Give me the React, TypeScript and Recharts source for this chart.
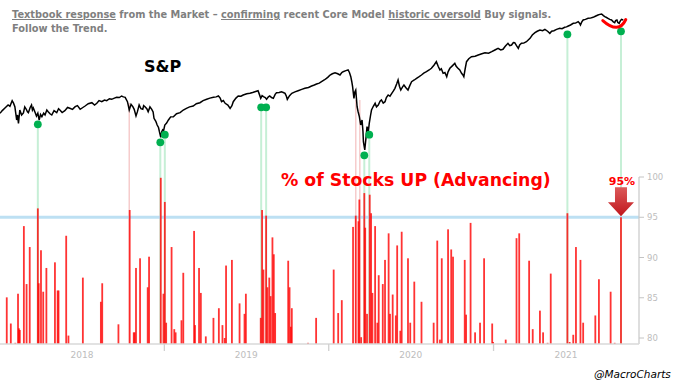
import React from 'react';
import {
  ComposedChart, XAxis, YAxis, Line, Bar, Scatter, ReferenceLine, ReferenceDot,
} from 'recharts';

// S&P 500 path: [days since 2018-01-01, index level (approx.)]
const SPX: [number, number][] = [
  [0, 2987], [5, 3030], [11, 3072], [18, 3120], [22, 3100], [27, 3189], [30, 3150], [33, 3093], [37, 2880], [39, 2960],
  [41, 2827], [44, 3040], [48, 2960], [52, 2992], [55, 3090], [58, 3056], [61, 3010], [63, 2997], [67, 3080], [70, 3120],
  [72, 3040], [74, 3072], [78, 3000], [81, 2944], [84, 2990], [87, 2880], [90, 2970], [93, 2933], [97, 2990], [100, 2960],
  [104, 3040], [107, 3013], [111, 2980], [115, 2960], [120, 3030], [126, 2997], [130, 3060], [133, 3040], [138, 3000], [144, 3029],
  [150, 3080], [155, 3067], [161, 3050], [167, 3093], [172, 3110], [178, 3051], [184, 3080], [189, 3104], [196, 3140], [204, 3157],
  [210, 3120], [215, 3147], [220, 3190], [226, 3173], [232, 3200], [237, 3189], [243, 3220], [248, 3211], [254, 3230], [259, 3243],
  [265, 3240], [270, 3264], [274, 3250], [278, 3243], [283, 3173], [285, 3110], [287, 3040], [291, 3130], [295, 3093], [298, 3050],
  [302, 2944], [305, 3010], [309, 3120], [313, 3060], [317, 3051], [319, 3110], [322, 3093], [326, 3060], [329, 3013], [333, 3090],
  [337, 3051], [340, 3010], [342, 2907], [346, 2860], [349, 2800], [352, 2760], [354, 2693], [357, 2603], [359, 2690], [361, 2720],
  [363, 2700], [366, 2800], [370, 2830], [374, 2880], [379, 2930], [385, 2933], [392, 2980], [400, 2997], [407, 3040], [414, 3067],
  [421, 3090], [429, 3104], [436, 3140], [444, 3157], [451, 3190], [459, 3211], [466, 3230], [474, 3243], [480, 3250], [485, 3264],
  [489, 3230], [492, 3173], [496, 3190], [500, 3147], [506, 3120], [511, 3067], [515, 3110], [518, 3173], [524, 3230], [529, 3264],
  [535, 3260], [540, 3280], [548, 3300], [555, 3307], [561, 3320], [566, 3333], [573, 3349], [576, 3290], [579, 3227], [582, 3270],
  [585, 3253], [589, 3240], [592, 3211], [596, 3250], [599, 3264], [603, 3240], [607, 3227], [611, 3290], [614, 3317], [620, 3320],
  [625, 3333], [629, 3320], [633, 3307], [636, 3260], [638, 3211], [643, 3270], [648, 3307], [655, 3330], [662, 3349], [670, 3370],
  [677, 3387], [685, 3400], [692, 3424], [698, 3440], [703, 3456], [709, 3470], [714, 3493], [720, 3520], [725, 3547], [729, 3570],
  [733, 3600], [738, 3620], [744, 3637], [750, 3620], [755, 3600], [759, 3640], [762, 3653], [768, 3670], [773, 3680], [776, 3640],
  [779, 3573], [781, 3500], [783, 3413], [786, 3227], [788, 3330], [790, 3360], [793, 3093], [795, 3020], [798, 2933], [801, 2800],
  [804, 2880], [806, 2700], [807, 2533], [810, 2400], [813, 2613], [815, 2773], [818, 2700], [820, 2827], [823, 2960], [825, 3040],
  [829, 3100], [833, 3147], [836, 3090], [840, 3120], [844, 3180], [847, 3200], [851, 3150], [855, 3173], [858, 3240], [862, 3280],
  [866, 3260], [870, 3307], [874, 3350], [877, 3387], [881, 3460], [884, 3520], [887, 3420], [890, 3360], [894, 3410], [897, 3440],
  [901, 3400], [906, 3360], [910, 3430], [914, 3493], [920, 3520], [925, 3547], [930, 3570], [936, 3600], [941, 3630], [947, 3653],
  [953, 3680], [958, 3707], [964, 3760], [969, 3813], [973, 3740], [977, 3680], [980, 3700], [984, 3627], [988, 3640], [992, 3573],
  [995, 3650], [999, 3707], [1005, 3750], [1010, 3787], [1013, 3740], [1017, 3707], [1021, 3680], [1025, 3627], [1028, 3600], [1030, 3573],
  [1033, 3700], [1036, 3813], [1041, 3860], [1047, 3893], [1055, 3900], [1062, 3920], [1070, 3940], [1077, 3957], [1085, 3950], [1092, 3973],
  [1099, 4000], [1106, 4027], [1112, 4000], [1117, 4011], [1122, 4060], [1128, 4107], [1132, 4070], [1136, 4080], [1140, 4120], [1143, 4117],
  [1147, 4070], [1151, 4027], [1154, 4080], [1158, 4107], [1163, 4110], [1169, 4133], [1173, 4160], [1177, 4187], [1182, 4240], [1188, 4277],
  [1193, 4300], [1199, 4320], [1205, 4310], [1210, 4331], [1216, 4300], [1221, 4267], [1225, 4300], [1230, 4309], [1236, 4330], [1243, 4347],
  [1248, 4340], [1254, 4363], [1258, 4370], [1262, 4384], [1267, 4400], [1273, 4427], [1278, 4430], [1284, 4453], [1287, 4430], [1289, 4400],
  [1292, 4450], [1295, 4480], [1300, 4490], [1306, 4507], [1311, 4510], [1317, 4523], [1322, 4540], [1328, 4560], [1332, 4570], [1336, 4576],
  [1340, 4550], [1343, 4533], [1347, 4520], [1350, 4507], [1354, 4490], [1358, 4480], [1362, 4450], [1365, 4437], [1367, 4470], [1370, 4480],
  [1372, 4440], [1375, 4427], [1377, 4460], [1380, 4491], [1384, 4480],
];

// % of stocks advancing: [days since 2018-01-01, percent]
const PCT: [number, number][] = [
  [15, 85.05], [24, 81.8], [34, 79.4], [40, 85.5], [42, 81.2], [44, 81.0], [53, 93.9], [59, 86.7], [66, 91.3], [84, 96.1],
  [86, 86.8], [91, 90.9], [96, 85.75], [103, 88.7], [122, 89.4], [128, 85.9], [130, 85.9], [147, 92.7], [152, 80.3], [184, 87.5],
  [224, 84.5], [227, 86.8], [263, 81.7], [288, 95.9], [297, 80.7], [299, 80.7], [302, 88.7], [311, 89.9], [328, 86.3], [331, 90.1],
  [357, 99.9], [363, 85.5], [366, 96.9], [369, 81.9], [381, 91.3], [387, 81.1], [390, 80.7], [403, 82.2], [407, 88.1], [431, 93.3],
  [433, 81.6], [442, 88.7], [446, 85.6], [457, 80.2], [474, 82.5], [486, 83.7], [494, 81.6], [499, 80.0], [502, 89.0], [515, 89.7],
  [532, 84.3], [543, 83.0], [546, 85.5], [579, 82.5], [582, 95.9], [585, 88.5], [591, 95.2], [594, 86.3], [598, 87.5], [601, 85.2],
  [605, 92.5], [608, 90.4], [611, 83.1], [640, 89.6], [643, 86.3], [646, 81.4], [648, 83.7], [684, 79.4], [702, 82.5], [741, 88.5],
  [751, 83.1], [759, 84.7], [784, 93.8], [790, 95.2], [796, 94.5], [798, 97.2], [802, 80.1], [809, 98.0], [811, 93.7], [815, 83.0],
  [821, 97.8], [824, 95.5], [827, 85.6], [833, 93.9], [838, 81.9], [841, 87.8], [844, 79.3], [850, 86.7], [855, 89.7], [863, 93.0],
  [866, 83.0], [872, 85.4], [879, 82.8], [882, 91.5], [889, 80.9], [892, 93.2], [906, 89.9], [911, 81.9], [920, 87.0], [936, 84.5],
  [963, 81.9], [971, 92.1], [977, 79.8], [981, 89.9], [995, 93.5], [1002, 91.0], [1006, 90.1], [1032, 89.7], [1035, 82.9], [1045, 94.3],
  [1055, 80.7], [1066, 81.9], [1075, 89.9], [1093, 81.8], [1095, 79.5], [1123, 79.8], [1147, 92.4], [1153, 93.0], [1175, 89.6], [1183, 81.1],
  [1199, 83.4], [1206, 80.7], [1216, 79.4], [1223, 88.0], [1260, 95.5], [1265, 79.5], [1273, 80.4], [1279, 91.3], [1289, 89.7], [1295, 81.9],
  [1322, 82.8], [1330, 87.3], [1356, 85.75], [1365, 79.4], [1379, 95.0],
];

// Core Model buy signals (green dots) and red-flag days
const BUY_SIGNALS: [number, number][] = [
  [84, 2811], [356, 2523], [366, 2645], [580, 3083], [591, 3083], [809, 2315], [820, 2645], [1260, 4251], [1379, 4299],
];
const PINK_SIGNALS: [number, number][] = [[287, 3152], [790, 3200], [799, 3200]];

// axis labels
const YEAR_LABELS = ['2018', '2019', '2020', '2021'];
const YEAR_LABEL_DAYS = [182, 547, 912, 1257];
const YEAR_BOUNDARY_DAYS = [365, 730, 1096];
const PCT_TICKS = [80, 85, 90, 95, 100];
const THRESHOLD = 95;

const X_DOMAIN: [number, number] = [0, 1419];
const SPX_DOMAIN: [number, number] = [-704, 4640];
const PCT_DOMAIN: [number, number] = [79.255, 120.745];

const merged = (() => {
  const map = new Map<number, any>();
  for (const [d, v] of SPX) map.set(d, { ...(map.get(d) || { day: d }), spx: v });
  for (const [d, v] of PCT) map.set(d, { ...(map.get(d) || { day: d }), pct: v });
  return Array.from(map.values()).sort((a, b) => a.day - b.day);
})();
const dotData = BUY_SIGNALS.map(([day, spx]) => ({ day, spx }));
const lastPct = PCT[PCT.length - 1];

const FONT = '"DejaVu Sans", sans-serif';

const YearTick = (props: any) => {
  const { x, y, payload } = props;
  const v = payload.value;
  if (YEAR_BOUNDARY_DAYS.includes(v)) {
    return <line x1={x} x2={x} y1={y - 8} y2={y - 1} stroke="#d0d0d0" strokeWidth={1.3} />;
  }
  const i = YEAR_LABEL_DAYS.indexOf(v);
  return (
    <text x={x} y={y} dy="0.71em" textAnchor="middle" fill="#bdbdbd" fontSize={9} fontFamily={FONT}>
      {YEAR_LABELS[i]}
    </text>
  );
};

const ThinBar = (props: any) => {
  const { x, y, width, height } = props;
  if (height == null || height <= 0) return null;
  const cx = x + width / 2;
  return <rect x={cx - 0.9} y={y} width={1.8} height={height} fill="#ff0000" fillOpacity={0.8} />;
};

const GreenDot = (props: any) => {
  const { cx, cy } = props;
  return <circle cx={cx} cy={cy} r={3.9} fill="#00b050" />;
};

const ArrowShape = (props: any) => {
  const { cx, cy } = props;
  return (
    <g>
      <defs>
        <linearGradient id="arrowGrad" x1="0" y1="0" x2="0" y2="1">
          <stop offset="0" stopColor="#dc5a5a" />
          <stop offset="1" stopColor="#c0161c" />
        </linearGradient>
      </defs>
      <polygon
        points={`${cx - 6},${cy - 30} ${cx + 6},${cy - 30} ${cx + 6},${cy - 15} ${cx + 13},${cy - 15} ${cx},${cy - 1} ${cx - 13},${cy - 15} ${cx - 6},${cy - 15}`}
        fill="url(#arrowGrad)"
      />
      <text x={cx + 1} y={cy - 32} textAnchor="middle" fill="#ff0000" fontWeight="bold" fontSize={11} fontFamily={FONT}>
        {`${Math.round(lastPct[1])}%`}
      </text>
    </g>
  );
};

const SmileShape = (props: any) => {
  const { cx, cy } = props;
  return (
    <path
      d={`M ${cx - 13.7} ${cy - 6.8} Q ${cx + 2.2} ${cy + 7.3} ${cx + 9.3} ${cy - 7.8}`}
      stroke="#ff0000" strokeWidth={3} fill="none" strokeLinecap="round"
    />
  );
};

export default function App() {
  const under: any = { zIndex: 150 };
  return (
    <div style={{ position: 'absolute', left: 0, top: 0, width: 680, height: 383, background: '#fff', fontFamily: FONT }}>
      <ComposedChart width={680} height={383} data={merged} margin={{ top: 10, right: 0, bottom: 14, left: 0 }}>
        <XAxis
          xAxisId="t" dataKey="day" type="number" domain={X_DOMAIN} allowDataOverflow
          ticks={[...YEAR_LABEL_DAYS, ...YEAR_BOUNDARY_DAYS].sort((a, b) => a - b)}
          interval={0} tick={<YearTick />} tickLine={false} tickSize={6} tickMargin={2}
          axisLine={{ stroke: '#d9d9d9', strokeWidth: 1.5 }} height={25}
        />
        <YAxis yAxisId="spx" hide type="number" domain={SPX_DOMAIN} allowDataOverflow />
        <YAxis
          yAxisId="pct" orientation="right" type="number" domain={PCT_DOMAIN} allowDataOverflow
          ticks={PCT_TICKS} interval={0} width={41} axisLine={false}
          tickLine={{ stroke: '#c4c4c4' }} tickSize={5} tickMargin={3}
          tick={{ fill: '#bdbdbd', fontSize: 8.5, fontFamily: FONT }}
        />
        {PINK_SIGNALS.map(([d, v]) => (
          <ReferenceLine key={`p${d}`} {...under} xAxisId="t" yAxisId="spx" segment={[{ x: d, y: v }, { x: d, y: SPX_DOMAIN[0] }]} stroke="#f6cccc" strokeWidth={1.5} />
        ))}
        {BUY_SIGNALS.map(([d, v]) => (
          <ReferenceLine key={`g${d}`} {...under} xAxisId="t" yAxisId="spx" segment={[{ x: d, y: v }, { x: d, y: SPX_DOMAIN[0] }]} stroke="#c6efd6" strokeWidth={2} />
        ))}
        <ReferenceLine {...under} xAxisId="t" yAxisId="pct" y={THRESHOLD} stroke="#bde0f3" strokeWidth={3} />
        <ReferenceLine xAxisId="t" yAxisId="pct" segment={[{ x: X_DOMAIN[1], y: PCT_DOMAIN[0] }, { x: X_DOMAIN[1], y: 100 }]} stroke="#c8c8c8" strokeWidth={1.2} ifOverflow="visible" />
        <Bar xAxisId="t" yAxisId="pct" dataKey="pct" shape={<ThinBar />} isAnimationActive={false} />
        <Line xAxisId="t" yAxisId="spx" dataKey="spx" stroke="#000" strokeWidth={1.5} dot={false} connectNulls type="linear" isAnimationActive={false} />
        <Scatter xAxisId="t" yAxisId="spx" data={dotData} dataKey="spx" shape={GreenDot} isAnimationActive={false} />
        <ReferenceDot xAxisId="t" yAxisId="pct" x={lastPct[0]} y={THRESHOLD} shape={ArrowShape} ifOverflow="visible" />
        <ReferenceDot xAxisId="t" yAxisId="spx" x={1369} y={4363} shape={SmileShape} ifOverflow="visible" />
      </ComposedChart>

      <div style={{ position: 'absolute', left: 12, top: 8, fontSize: 9.8, fontWeight: 'bold', color: '#7f7f7f', lineHeight: '14px', whiteSpace: 'nowrap' }}>
        <span style={{ textDecoration: 'underline' }}>Textbook response</span> from the Market – <span style={{ textDecoration: 'underline' }}>confirming</span> recent Core Model <span style={{ textDecoration: 'underline' }}>historic oversold</span> Buy signals.
        <br />Follow the Trend.
      </div>
      <div style={{ position: 'absolute', left: 144, top: 58, fontSize: 16, fontWeight: 'bold', color: '#000', lineHeight: '18px', whiteSpace: 'nowrap' }}>
        S&amp;P
      </div>
      <div style={{ position: 'absolute', left: 281, top: 170, fontSize: 17.3, fontWeight: 'bold', color: '#ff0000', lineHeight: '20px', whiteSpace: 'nowrap' }}>
        % of Stocks UP (Advancing)
      </div>
      <div style={{ position: 'absolute', left: 594, top: 366, fontSize: 10.5, fontStyle: 'italic', color: '#000', lineHeight: '16px', whiteSpace: 'nowrap' }}>
        @MacroCharts
      </div>
    </div>
  );
}
